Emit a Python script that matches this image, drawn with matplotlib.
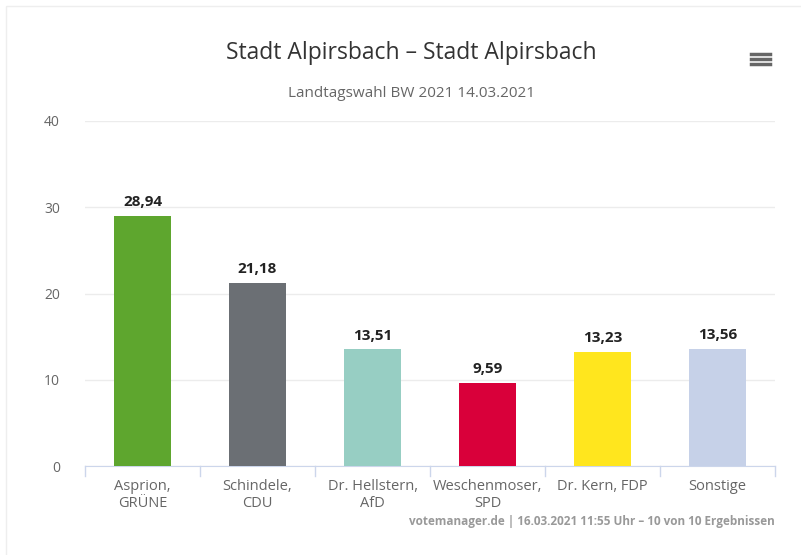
import matplotlib.pyplot as plt
import matplotlib.patches as mpatches
from matplotlib.lines import Line2D

# Daten
kandidaten = ['Asprion,\nGRÜNE', 'Schindele,\nCDU', 'Dr. Hellstern,\nAfD',
              'Weschenmoser,\nSPD', 'Dr. Kern, FDP', 'Sonstige']
werte = [28.94, 21.18, 13.51, 9.59, 13.23, 13.56]
farben = ['#5ea62e', '#6b6f74', '#97cec3', '#d9003a', '#ffe61e', '#c6d1e8']
y_ticks = [0, 10, 20, 30, 40]

plt.rcParams['font.family'] = ['Open Sans', 'DejaVu Sans']

fig = plt.figure(figsize=(8.01, 5.55), dpi=100)
ax = fig.add_axes([85 / 801, 1 - 466 / 555, 690 / 801, 345 / 555])

x = range(len(kandidaten))
bars = ax.bar(x, werte, width=0.5, color=farben, zorder=3)

for xi, v in zip(x, werte):
    ax.text(xi, v + 0.8, f'{v:.2f}'.replace('.', ','), ha='center', va='bottom',
            fontsize=11, fontweight='bold', color='#222222')

ax.set_xlim(-0.5, len(kandidaten) - 0.5)
ax.set_ylim(0, 40)
ax.set_yticks(y_ticks)
ax.set_yticklabels([str(t) for t in y_ticks], color='#666666', fontsize=10)
ax.set_xticks(list(x))
ax.set_xticklabels(kandidaten, color='#666666', fontsize=10.5, linespacing=1.2)
ax.tick_params(axis='y', length=0, pad=18)
ax.tick_params(axis='x', length=0, pad=9)
ax.yaxis.grid(True, color='#ececec', linewidth=1)
ax.set_axisbelow(True)
for s in ['top', 'right', 'left']:
    ax.spines[s].set_visible(False)
ax.spines['bottom'].set_color('#ccd6eb')

# Trennstriche unter der Achse
for b in range(len(kandidaten) + 1):
    ax.add_line(Line2D([b - 0.5, b - 0.5], [0, -1.2], color='#ccd6eb',
                       linewidth=1, clip_on=False))

# Titel
fig.text(411 / 801, 1 - 53 / 555, 'Stadt Alpirsbach – Stadt Alpirsbach',
         ha='center', va='center', fontsize=16.5, color='#333333')
fig.text(411 / 801, 1 - 93 / 555, 'Landtagswahl BW 2021 14.03.2021',
         ha='center', va='center', fontsize=11, color='#666666')

# Quelle
fig.text(775 / 801, 1 - 522 / 555,
         'votemanager.de | 16.03.2021 11:55 Uhr – 10 von 10 Ergebnissen',
         ha='right', va='center', fontsize=8.5, fontweight='bold', color='#999999')

# Menü-Symbol
for yy in [54, 59, 64]:
    fig.add_artist(Line2D([751 / 801, 770 / 801], [1 - yy / 555, 1 - yy / 555],
                          color='#666666', linewidth=2.5))

# Rahmen
fig.add_artist(mpatches.Rectangle((6 / 801, -0.1), 1.2, 1.1 - 6 / 555,
                                  transform=fig.transFigure, fill=False,
                                  edgecolor='#eeeeee', linewidth=1))

fig.savefig('out.png', dpi=100)
